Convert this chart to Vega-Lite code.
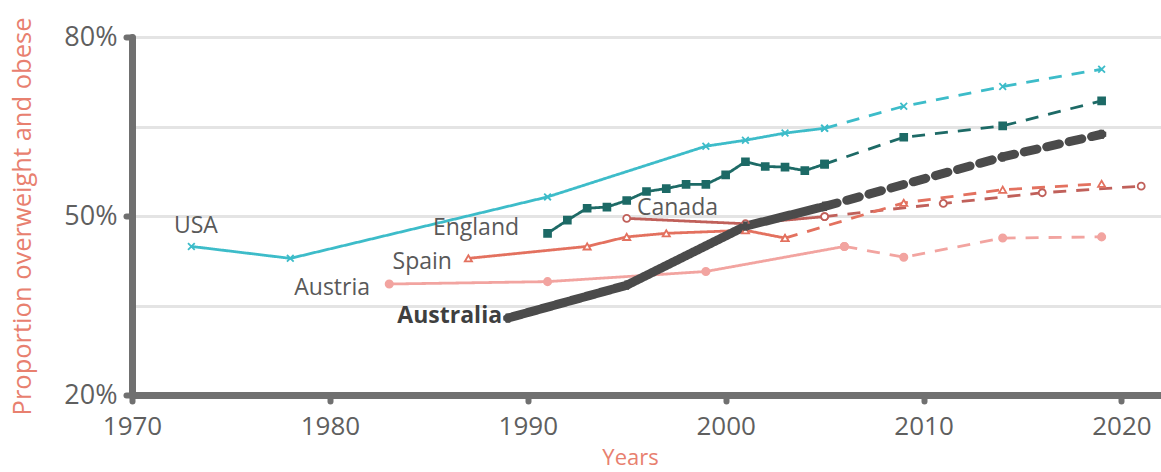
{
  "$schema": "https://vega.github.io/schema/vega-lite/v6.json",
  "width": 1029,
  "height": 358,
  "autosize": {"type": "none"},
  "padding": {"left": 132, "top": 37, "right": 0, "bottom": 77},
  "background": "white",
  "config": {
    "view": {"stroke": null},
    "font": "Open Sans",
    "axis": {"labelFont": "Open Sans", "titleFont": "Open Sans"}
  },
  "datasets": {
    "series": [
      {"country": "USA", "type": "actual", "year": 1973, "value": 44.9},
      {"country": "USA", "type": "actual", "year": 1978, "value": 42.9},
      {"country": "USA", "type": "actual", "year": 1991, "value": 53.2},
      {"country": "USA", "type": "actual", "year": 1999, "value": 61.7},
      {"country": "USA", "type": "actual", "year": 2001, "value": 62.7},
      {"country": "USA", "type": "actual", "year": 2003, "value": 63.9},
      {"country": "USA", "type": "actual", "year": 2005, "value": 64.7},
      {"country": "USA", "type": "projected", "year": 2005, "value": 64.7},
      {"country": "USA", "type": "projected", "year": 2009, "value": 68.4},
      {"country": "USA", "type": "projected", "year": 2014, "value": 71.7},
      {"country": "USA", "type": "projected", "year": 2019, "value": 74.6},
      {"country": "England", "type": "actual", "year": 1991, "value": 47.1},
      {"country": "England", "type": "actual", "year": 1992, "value": 49.3},
      {"country": "England", "type": "actual", "year": 1993, "value": 51.3},
      {"country": "England", "type": "actual", "year": 1994, "value": 51.5},
      {"country": "England", "type": "actual", "year": 1995, "value": 52.6},
      {"country": "England", "type": "actual", "year": 1996, "value": 54.1},
      {"country": "England", "type": "actual", "year": 1997, "value": 54.6},
      {"country": "England", "type": "actual", "year": 1998, "value": 55.3},
      {"country": "England", "type": "actual", "year": 1999, "value": 55.3},
      {"country": "England", "type": "actual", "year": 2000, "value": 56.9},
      {"country": "England", "type": "actual", "year": 2001, "value": 59.1},
      {"country": "England", "type": "actual", "year": 2002, "value": 58.3},
      {"country": "England", "type": "actual", "year": 2003, "value": 58.2},
      {"country": "England", "type": "actual", "year": 2004, "value": 57.6},
      {"country": "England", "type": "actual", "year": 2005, "value": 58.7},
      {"country": "England", "type": "projected", "year": 2005, "value": 58.7},
      {"country": "England", "type": "projected", "year": 2009, "value": 63.2},
      {"country": "England", "type": "projected", "year": 2014, "value": 65.1},
      {"country": "England", "type": "projected", "year": 2019, "value": 69.3},
      {"country": "Canada", "type": "actual", "year": 1995, "value": 49.6},
      {"country": "Canada", "type": "actual", "year": 2001, "value": 48.7},
      {"country": "Canada", "type": "actual", "year": 2005, "value": 49.9},
      {"country": "Canada", "type": "projected", "year": 2005, "value": 49.9},
      {"country": "Canada", "type": "projected", "year": 2011, "value": 52.1},
      {"country": "Canada", "type": "projected", "year": 2016, "value": 53.9},
      {"country": "Canada", "type": "projected", "year": 2021, "value": 55.0},
      {"country": "Spain", "type": "actual", "year": 1987, "value": 42.9},
      {"country": "Spain", "type": "actual", "year": 1993, "value": 44.9},
      {"country": "Spain", "type": "actual", "year": 1995, "value": 46.5},
      {"country": "Spain", "type": "actual", "year": 1997, "value": 47.1},
      {"country": "Spain", "type": "actual", "year": 2001, "value": 47.6},
      {"country": "Spain", "type": "actual", "year": 2003, "value": 46.3},
      {"country": "Spain", "type": "projected", "year": 2003, "value": 46.3},
      {"country": "Spain", "type": "projected", "year": 2009, "value": 52.2},
      {"country": "Spain", "type": "projected", "year": 2014, "value": 54.4},
      {"country": "Spain", "type": "projected", "year": 2019, "value": 55.4},
      {"country": "Austria", "type": "actual", "year": 1983, "value": 38.6},
      {"country": "Austria", "type": "actual", "year": 1991, "value": 39.0},
      {"country": "Austria", "type": "actual", "year": 1999, "value": 40.7},
      {"country": "Austria", "type": "actual", "year": 2006, "value": 44.9},
      {"country": "Austria", "type": "projected", "year": 2006, "value": 44.9},
      {"country": "Austria", "type": "projected", "year": 2009, "value": 43.1},
      {"country": "Austria", "type": "projected", "year": 2014, "value": 46.3},
      {"country": "Austria", "type": "projected", "year": 2019, "value": 46.5},
      {"country": "Australia", "type": "actual", "year": 1989, "value": 32.9},
      {"country": "Australia", "type": "actual", "year": 1995, "value": 38.4},
      {"country": "Australia", "type": "actual", "year": 2001, "value": 48.3},
      {"country": "Australia", "type": "actual", "year": 2005, "value": 51.6},
      {"country": "Australia", "type": "projected", "year": 2005, "value": 51.6},
      {"country": "Australia", "type": "projected", "year": 2014, "value": 59.9},
      {"country": "Australia", "type": "projected", "year": 2019, "value": 63.7}
    ],
    "labels": [
      {"label": "USA", "year": 1973.23, "value": 47.15},
      {"label": "England", "year": 1989.56, "value": 46.82},
      {"label": "Canada", "year": 1995.52, "value": 50.17},
      {"label": "Spain", "year": 1986.17, "value": 41.12},
      {"label": "Austria", "year": 1982.03, "value": 36.76},
      {"label": "Australia", "year": 1988.7, "value": 32.07}
    ]
  },
  "encoding": {
    "x": {
      "field": "year", "type": "quantitative",
      "scale": {"domain": [1970, 2022], "nice": false, "zero": false},
      "axis": {
        "values": [1970, 1980, 1990, 2000, 2010, 2020],
        "format": "d",
        "grid": false,
        "labelFlush": false,
        "domainColor": "#707070", "domainWidth": 7, "domainCap": "round",
        "tickColor": "#707070", "tickWidth": 6, "tickSize": 6, "tickCap": "round",
        "labelFontSize": 26, "labelColor": "#5f5f5f", "labelPadding": 12,
        "title": "Years", "titleColor": "#E8806F", "titleFontSize": 22, "titleFontWeight": "normal",
        "titleX": 498, "titleY": 52, "titleBaseline": "top", "titleAlign": "center", "titleAnchor": null
      }
    },
    "y": {
      "field": "value", "type": "quantitative",
      "scale": {"domain": [20, 80], "nice": false, "zero": false},
      "axis": {
        "values": [20, 35, 50, 65, 80],
        "labelExpr": "datum.value == 35 || datum.value == 65 ? '' : datum.value + '%'",
        "labelFlush": false,
        "grid": true, "gridColor": "#e4e4e4", "gridWidth": 3,
        "domainColor": "#707070", "domainWidth": 7, "domainCap": "round",
        "tickColor": "#707070", "tickWidth": 6, "tickSize": 6, "tickCap": "round",
        "tickOpacity": {"condition": {"test": "datum.value == 35 || datum.value == 65", "value": 0}, "value": 1},
        "labelFontSize": 27, "labelColor": "#5f5f5f", "labelPadding": 9, "labelBaseline": "middle",
        "title": "Proportion overweight and obese", "titleColor": "#E8806F", "titleFontSize": 25.5, "titleFontWeight": "normal",
        "titleX": -110, "titleY": 179, "titleAngle": -90, "titleAlign": "center", "titleBaseline": "middle", "titleAnchor": null
      }
    }
  },
  "layer": [
    {
      "data": {"name": "series"},
      "transform": [{"filter": "datum.country != 'Australia'"}],
      "mark": {"type": "line", "strokeWidth": 2.8},
      "encoding": {
        "color": {
          "field": "country", "type": "nominal", "legend": null,
          "scale": {"domain": ["USA", "England", "Canada", "Spain", "Austria", "Australia"],
                    "range": ["#3DBCC9", "#1D6A66", "#C0605A", "#E3715F", "#F2A4A0", "#4B4B4B"]}
        },
        "detail": {"field": "type"},
        "strokeDash": {
          "field": "type", "type": "nominal", "legend": null,
          "scale": {"domain": ["actual", "projected"], "range": [[1, 0], [13, 10]]}
        }
      }
    },
    {
      "data": {"name": "series"},
      "transform": [{"filter": "datum.country == 'Australia'"}],
      "mark": {"type": "line", "strokeWidth": 9, "strokeCap": "round", "strokeJoin": "round", "color": "#4B4B4B"},
      "encoding": {
        "detail": {"field": "type"},
        "strokeDash": {
          "field": "type", "type": "nominal", "legend": null,
          "scale": {"domain": ["actual", "projected"], "range": [[1, 0], [10, 16]]}
        }
      }
    },
    {
      "data": {"name": "series"},
      "mark": {"type": "point", "filled": false, "strokeWidth": 1.8, "opacity": 1},
      "encoding": {
        "shape": {
          "field": "country", "type": "nominal", "legend": null,
          "scale": {"domain": ["USA", "England", "Canada", "Spain", "Austria", "Australia"],
                    "range": ["M-1,-1L1,1M-1,1L1,-1", "square", "circle", "triangle-up", "circle", "cross"]}
        },
        "size": {
          "field": "country", "type": "nominal", "legend": null,
          "scale": {"domain": ["USA", "England", "Canada", "Spain", "Austria", "Australia"],
                    "range": [45, 55, 40, 40, 42, 190]}
        },
        "stroke": {
          "field": "country", "type": "nominal", "legend": null,
          "scale": {"domain": ["USA", "England", "Canada", "Spain", "Austria", "Australia"],
                    "range": ["#3DBCC9", "#1D6A66", "#C0605A", "#E3715F", "#F2A4A0", "#4B4B4B"]}
        },
        "fill": {
          "field": "country", "type": "nominal", "legend": null,
          "scale": {"domain": ["USA", "England", "Canada", "Spain", "Austria", "Australia"],
                    "range": ["#3DBCC9", "#1D6A66", "#ffffff", "#ffffff", "#F2A4A0", "#4B4B4B"]}
        }
      }
    },
    {
      "data": {"name": "labels"},
      "transform": [{"filter": "datum.label == 'USA'"}],
      "mark": {"type": "text", "align": "center", "baseline": "alphabetic", "fontSize": 23, "color": "#595959"},
      "encoding": {"text": {"field": "label"}}
    },
    {
      "data": {"name": "labels"},
      "transform": [{"filter": "datum.label == 'Canada'"}],
      "mark": {"type": "text", "align": "left", "baseline": "alphabetic", "fontSize": 23, "color": "#595959"},
      "encoding": {"text": {"field": "label"}}
    },
    {
      "data": {"name": "labels"},
      "transform": [{"filter": "datum.label == 'England' || datum.label == 'Spain' || datum.label == 'Austria'"}],
      "mark": {"type": "text", "align": "right", "baseline": "alphabetic", "fontSize": 23, "color": "#595959"},
      "encoding": {"text": {"field": "label"}}
    },
    {
      "data": {"name": "labels"},
      "transform": [{"filter": "datum.label == 'Australia'"}],
      "mark": {"type": "text", "align": "right", "baseline": "alphabetic", "fontSize": 23, "fontWeight": "bold", "color": "#3f3f3f"},
      "encoding": {"text": {"field": "label"}}
    }
  ]
}
